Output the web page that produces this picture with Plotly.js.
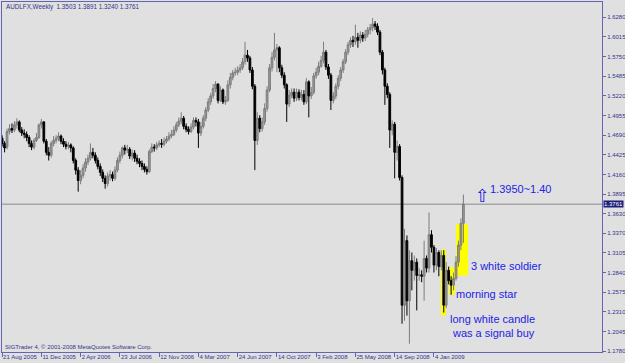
<!DOCTYPE html>
<html><head><meta charset="utf-8">
<script src="https://cdn.plot.ly/plotly-3.0.1.min.js"></script>
<style>html,body{margin:0;padding:0;background:#e0e0e0;overflow:hidden}#chart{width:625px;height:363px}</style>
</head><body><div id="chart"></div>
<script>
const symbolTitle = 'AUDLFX,Weekly  1.3503 1.3891 1.3240 1.3761';
const copyrightText = 'SIGTrader 4, © 2001-2008 MetaQuotes Software Corp.';
const firstWeekUTC = Date.UTC(2005, 7, 21);

const open = [1.465,1.458,1.453,1.474,1.478,1.476,1.483,1.487,1.476,1.472,
1.470,1.466,1.458,1.453,1.462,1.466,1.483,1.487,1.461,1.446,
1.442,1.458,1.462,1.465,1.468,1.461,1.457,1.454,1.456,1.452,
1.435,1.422,1.408,1.415,1.425,1.433,1.438,1.446,1.442,1.435,
1.427,1.419,1.411,1.404,1.414,1.416,1.411,1.422,1.435,1.442,
1.452,1.449,1.450,1.441,1.445,1.438,1.434,1.431,1.427,1.423,
1.420,1.447,1.453,1.452,1.456,1.458,1.457,1.461,1.464,1.468,
1.470,1.476,1.483,1.488,1.492,1.481,1.477,1.474,1.480,1.489,
1.487,1.472,1.481,1.492,1.503,1.514,1.522,1.532,1.538,1.516,
1.530,1.514,1.516,1.537,1.547,1.553,1.554,1.557,1.560,1.568,
1.577,1.573,1.557,1.535,1.462,1.492,1.478,1.487,1.505,1.530,
1.560,1.574,1.584,1.587,1.560,1.550,1.537,1.511,1.523,1.527,
1.519,1.527,1.520,1.524,1.514,1.541,1.522,1.527,1.549,1.554,
1.562,1.570,1.581,1.561,1.550,1.516,1.522,1.535,1.546,1.557,
1.568,1.581,1.591,1.597,1.595,1.601,1.597,1.604,1.600,1.605,
1.611,1.614,1.619,1.616,1.608,1.581,1.557,1.535,1.524,1.476,
1.484,1.446,1.454,1.412,1.240,1.327,1.246,1.300,1.287,1.298,
1.280,1.281,1.279,1.303,1.290,1.335,1.318,1.294,1.311,1.292,
1.307,1.240,1.287,1.273,1.267,1.276,1.298,1.321,1.3503];

const close = [1.458,1.452,1.474,1.478,1.476,1.483,1.487,1.476,1.472,1.470,
1.466,1.458,1.453,1.462,1.466,1.483,1.487,1.461,1.446,1.442,
1.458,1.462,1.465,1.468,1.461,1.457,1.454,1.456,1.452,1.435,
1.422,1.408,1.415,1.425,1.433,1.438,1.446,1.442,1.435,1.427,
1.419,1.411,1.404,1.414,1.416,1.411,1.422,1.435,1.442,1.452,
1.449,1.450,1.441,1.445,1.438,1.434,1.431,1.427,1.423,1.420,
1.447,1.453,1.452,1.456,1.458,1.457,1.461,1.464,1.468,1.470,
1.476,1.483,1.488,1.492,1.481,1.477,1.474,1.480,1.489,1.487,
1.472,1.481,1.492,1.503,1.514,1.522,1.532,1.538,1.516,1.530,
1.514,1.516,1.537,1.547,1.553,1.554,1.557,1.560,1.568,1.577,
1.573,1.557,1.535,1.462,1.492,1.478,1.487,1.505,1.530,1.560,
1.574,1.584,1.587,1.560,1.550,1.537,1.511,1.523,1.527,1.519,
1.527,1.520,1.524,1.514,1.541,1.522,1.527,1.549,1.554,1.562,
1.570,1.581,1.561,1.550,1.516,1.522,1.535,1.546,1.557,1.568,
1.581,1.591,1.597,1.595,1.601,1.597,1.604,1.600,1.605,1.611,
1.614,1.619,1.616,1.608,1.581,1.557,1.535,1.524,1.476,1.484,
1.446,1.454,1.412,1.240,1.327,1.246,1.300,1.287,1.298,1.280,
1.281,1.279,1.303,1.290,1.335,1.318,1.294,1.311,1.292,1.307,
1.240,1.287,1.273,1.267,1.276,1.298,1.321,1.3503,1.3761];

const high = [1.469,1.461,1.478,1.484,1.485,1.488,1.492,1.489,1.480,1.477,
1.474,1.469,1.462,1.465,1.472,1.485,1.491,1.488,1.464,1.453,
1.461,1.468,1.469,1.473,1.470,1.465,1.461,1.460,1.458,1.454,
1.438,1.426,1.422,1.430,1.438,1.443,1.458,1.452,1.446,1.439,
1.431,1.423,1.415,1.419,1.422,1.420,1.427,1.439,1.447,1.454,
1.456,1.456,1.453,1.450,1.449,1.443,1.438,1.435,1.431,1.427,
1.450,1.458,1.457,1.460,1.462,1.464,1.466,1.468,1.473,1.476,
1.481,1.487,1.493,1.500,1.495,1.485,1.481,1.485,1.493,1.493,
1.491,1.487,1.496,1.507,1.519,1.526,1.538,1.542,1.539,1.535,
1.532,1.522,1.543,1.553,1.557,1.560,1.562,1.565,1.573,1.595,
1.584,1.576,1.561,1.538,1.500,1.496,1.493,1.512,1.535,1.565,
1.581,1.607,1.592,1.589,1.564,1.554,1.539,1.530,1.532,1.532,
1.532,1.531,1.530,1.530,1.546,1.543,1.534,1.553,1.560,1.568,
1.576,1.595,1.584,1.565,1.553,1.527,1.539,1.550,1.561,1.572,
1.585,1.595,1.601,1.603,1.618,1.607,1.609,1.608,1.611,1.615,
1.619,1.627,1.623,1.620,1.611,1.584,1.560,1.539,1.527,1.489,
1.487,1.462,1.457,1.415,1.343,1.334,1.314,1.311,1.307,1.303,
1.290,1.287,1.327,1.307,1.365,1.341,1.321,1.317,1.314,1.314,
1.314,1.298,1.292,1.279,1.284,1.306,1.327,1.357,1.3891];

const low = [1.454,1.446,1.450,1.470,1.472,1.473,1.478,1.473,1.468,1.465,
1.461,1.453,1.449,1.450,1.460,1.464,1.478,1.458,1.442,1.435,
1.439,1.454,1.458,1.461,1.457,1.453,1.450,1.450,1.446,1.431,
1.416,1.393,1.403,1.411,1.420,1.429,1.435,1.438,1.431,1.423,
1.414,1.406,1.397,1.400,1.408,1.407,1.408,1.419,1.431,1.438,
1.443,1.445,1.437,1.435,1.433,1.430,1.426,1.422,1.419,1.416,
1.418,1.445,1.447,1.449,1.453,1.452,1.454,1.458,1.461,1.465,
1.468,1.473,1.480,1.484,1.477,1.473,1.470,1.472,1.477,1.481,
1.452,1.468,1.478,1.488,1.500,1.510,1.518,1.527,1.512,1.514,
1.511,1.510,1.514,1.532,1.543,1.549,1.550,1.553,1.557,1.564,
1.568,1.553,1.531,1.422,1.456,1.473,1.474,1.483,1.501,1.527,
1.555,1.570,1.554,1.554,1.546,1.532,1.487,1.507,1.519,1.514,
1.515,1.516,1.516,1.510,1.511,1.493,1.518,1.524,1.545,1.550,
1.560,1.566,1.557,1.545,1.503,1.512,1.518,1.531,1.542,1.553,
1.565,1.577,1.587,1.588,1.591,1.587,1.593,1.595,1.596,1.601,
1.605,1.609,1.611,1.604,1.577,1.551,1.510,1.519,1.452,1.469,
1.411,1.435,1.408,1.215,1.219,1.226,1.188,1.260,1.273,1.233,
1.273,1.271,1.246,1.284,1.284,1.311,1.284,1.287,1.279,1.287,
1.230,1.236,1.268,1.254,1.260,1.273,1.292,1.314,1.3240];

const dateTickDates = ['2005-08-21','2005-12-11','2006-04-02','2006-07-23','2006-11-12','2007-03-04',
  '2007-06-24','2007-10-14','2008-02-03','2008-05-25','2008-09-14','2009-01-04'];
const dateTickLabels = ['21 Aug 2005','11 Dec 2005','2 Apr 2006','23 Jul 2006','12 Nov 2006','4 Mar 2007',
  '24 Jun 2007','14 Oct 2007','3 Feb 2008','25 May 2008','14 Sep 2008','4 Jan 2009'];
const priceTickValues = [1.1780,1.2045,1.2310,1.2575,1.2840,1.3105,1.3370,1.3630,1.3895,
  1.4160,1.4425,1.4690,1.4955,1.5220,1.5485,1.5750,1.6015,1.6280];
const priceTickLabels = priceTickValues.map(v => v.toFixed(4));

// highlighted patterns: [first week, last week, top price, bottom price]
const patternBoxes = [[178.9, 180.9, 1.315, 1.226],[182.2, 184.6, 1.291, 1.254],[185.0, 189.9, 1.349, 1.280]];

function weekDate(w) {
  const d = new Date(firstWeekUTC + w * 7 * 864e5);
  return d.toISOString().slice(0, 19).replace('T', ' ');
}
const weeks = open.map((_, i) => weekDate(i));

const frame = '#6464b4';
const txt = '#34348c';
const blue = '#2222e6';
const fam = 'Liberation Sans, Arial, sans-serif';

const trace = {
  type: 'candlestick', x: weeks, open: open, high: high, low: low, close: close,
  increasing: {line: {color: '#7c7c7c', width: 1}, fillcolor: '#9a9a9a'},
  decreasing: {line: {color: '#000000', width: 1}, fillcolor: '#000000'},
  whiskerwidth: 0, hoverinfo: 'none', showlegend: false
};

const lastClose = close[close.length - 1];
const shapes = [{type: 'line', xref: 'paper', x0: 0, x1: 1, yref: 'y', y0: lastClose, y1: lastClose,
  line: {color: '#a6a6a6', width: 1.5}, layer: 'below'}];
patternBoxes.forEach(b => shapes.push({type: 'rect', xref: 'x', yref: 'y',
  x0: weekDate(b[0]), x1: weekDate(b[1]), y0: b[3], y1: b[2],
  fillcolor: '#ffff00', line: {width: 0}, layer: 'below'}));

function note(text, x, y, size, extra) {
  return Object.assign({text: text, xref: 'paper', yref: 'paper', x: x, y: y, showarrow: false,
    xanchor: 'center', yanchor: 'middle', font: {family: fam, size: size, color: blue}}, extra || {});
}
const annotations = [
  {text: symbolTitle, xref: 'paper', yref: 'paper', x: 0.0033, y: 0.9857, xanchor: 'left', yanchor: 'middle',
   showarrow: false, font: {family: fam, size: 6.3, color: txt}},
  {text: copyrightText, xref: 'paper', yref: 'paper', x: 0.001, y: 0.015, xanchor: 'left', yanchor: 'middle',
   showarrow: false, font: {family: fam, size: 6, color: txt}},
  {text: lastClose.toFixed(4), xref: 'paper', yref: 'y', x: 1, y: lastClose, xanchor: 'left', yanchor: 'middle',
   xshift: 1, showarrow: false, bgcolor: '#1e1e7a', borderpad: 0, font: {family: fam, size: 6, color: '#ffffff'}},
  note('1.3950~1.40', 0.864, 0.467, 11),
  note('\u21E7', 0.801, 0.446, 18, {font: {family: 'DejaVu Sans', size: 18, color: blue}}),
  note('3 white soldier', 0.840, 0.2457, 11),
  note('morning star', 0.8078, 0.1657, 11),
  note('long white candle', 0.8167, 0.0943, 11),
  note('was a signal buy', 0.82, 0.0543, 11)
];

const layout = {
  width: 625, height: 363,
  margin: {l: 2, r: 23, t: 2, b: 11, pad: 0},
  paper_bgcolor: '#e0e0e0', plot_bgcolor: '#e0e0e0',
  showlegend: false, boxgap: 0.3, boxgroupgap: 0,
  font: {family: fam, size: 6, color: txt},
  xaxis: {type: 'date', range: [weekDate(-0.05), weekDate(244.5)], rangeslider: {visible: false},
    showgrid: false, zeroline: false, showline: true, mirror: true, linecolor: frame, linewidth: 1,
    ticks: 'outside', ticklen: 4, tickcolor: frame, tickwidth: 1, tickangle: 0,
    tickvals: dateTickDates, ticktext: dateTickLabels, ticklabelposition: 'outside right',
    ticklabelstandoff: -1,
    tickfont: {family: fam, size: 6, color: txt}, fixedrange: true},
  yaxis: {side: 'right', range: [1.1769, 1.6486], showgrid: false, zeroline: false,
    showline: true, mirror: true, linecolor: frame, linewidth: 1,
    ticks: 'outside', ticklen: 3, tickcolor: frame, tickwidth: 1,
    tickvals: priceTickValues, ticktext: priceTickLabels,
    tickfont: {family: fam, size: 6, color: txt}, fixedrange: true},
  shapes: shapes,
  annotations: annotations
};

Plotly.newPlot('chart', [trace], layout, {displayModeBar: false, staticPlot: true});
</script>
</body></html>
